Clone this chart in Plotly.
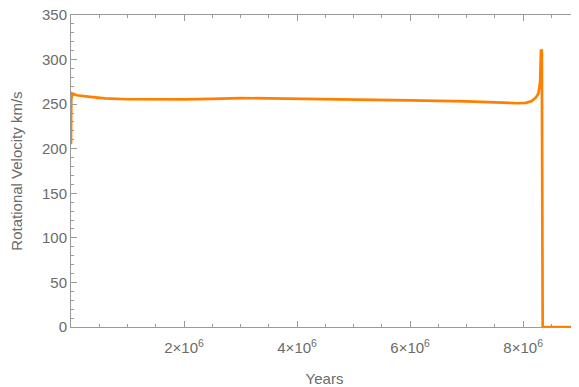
import plotly.graph_objects as go

years = [0, 5e3, 2e4, 1e5, 3e5, 6e5, 1e6, 1.5e6, 2e6, 2.5e6, 3e6, 3.5e6, 4e6, 5e6, 6e6, 7e6,
         7.6e6, 7.9e6, 8.05e6, 8.15e6, 8.22e6, 8.27e6, 8.3e6, 8.315e6, 8.33e6, 8.345e6, 8.36e6, 8.95e6]
velocity = [205, 255, 262, 260, 258.5, 256.5, 255.5, 255.2, 255.3, 256, 256.8, 256.5, 256.2, 255.3, 254.3, 253.2,
            251.5, 251, 251.5, 253.5, 257, 262, 275, 310, 310, 0, 0, 0]

xtick_vals = [2e6, 4e6, 6e6, 8e6]
xtick_text = ["2×10<sup>6</sup>", "4×10<sup>6</sup>", "6×10<sup>6</sup>", "8×10<sup>6</sup>"]
ytick_vals = [0, 50, 100, 150, 200, 250, 300, 350]

FONT = "Liberation Sans, Arial"
TXT = "#6b6b6b"

fig = go.Figure()
fig.add_trace(go.Scatter(x=years, y=velocity, mode="lines",
                         line=dict(color="#FF8000", width=2.7), hoverinfo="skip"))

axis_common = dict(showgrid=False, zeroline=False, showline=True, linecolor="#9a9a9a",
                   linewidth=1, mirror="allticks", ticks="inside", tickcolor="#9a9a9a",
                   automargin=False, ticklabeloverflow="allow",
                   tickfont=dict(family=FONT, size=15, color=TXT))

fig.update_xaxes(range=[0, 8.97e6], tickvals=xtick_vals, ticktext=xtick_text, ticklen=6,
                 ticklabelstandoff=7,
                 minor=dict(dtick=5e5, tick0=0, ticklen=3, ticks="inside", tickcolor="#9a9a9a"),
                 title=dict(text="Years", font=dict(family=FONT, size=15, color=TXT), standoff=18),
                 **axis_common)
fig.update_yaxes(range=[0, 350], tickvals=ytick_vals, ticklen=6,
                 minor=dict(dtick=10, tick0=0, ticklen=3, ticks="inside", tickcolor="#9a9a9a"),
                 title=dict(text="Rotational Velocity km/s", font=dict(family=FONT, size=15, color=TXT), standoff=18),
                 **axis_common)

# page body has an 8px margin; compensate so the plot area lands where the reference has it
fig.update_layout(width=571, height=379, margin=dict(l=63, r=1, t=7, b=60),
                  plot_bgcolor="white", paper_bgcolor="white", showlegend=False)

fig.write_html("out.html")
